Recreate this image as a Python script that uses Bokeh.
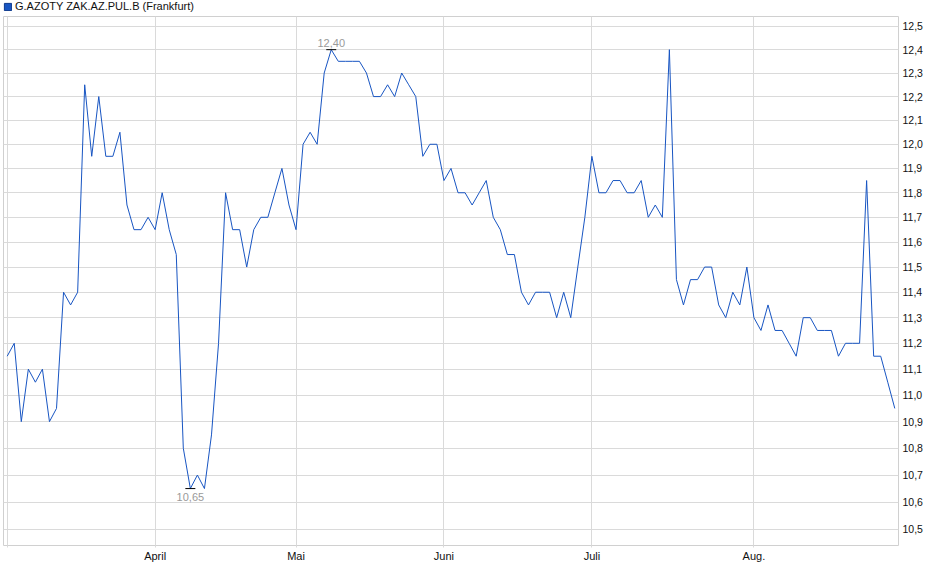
import numpy as np
from bokeh.plotting import figure
from bokeh.layouts import column
from bokeh.models import (Range1d, FixedTicker, CustomJSTickFormatter, Label,
                          Legend, LegendItem)
from bokeh.embed import file_html
from bokeh.resources import INLINE

series_name = "G.AZOTY ZAK.AZ.PUL.B (Frankfurt)"

prices = [
    11.15, 11.2, 10.9, 11.1, 11.05, 11.1, 10.9, 10.95, 11.4, 11.35,
    11.4, 12.25, 11.95, 12.2, 11.95, 11.95, 12.05, 11.75, 11.65, 11.65,
    11.7, 11.65, 11.8, 11.65, 11.55, 10.8, 10.65, 10.7, 10.65, 10.85,
    11.2, 11.8, 11.65, 11.65, 11.5, 11.65, 11.7, 11.7, 11.8, 11.9,
    11.75, 11.65, 12.0, 12.05, 12.0, 12.3, 12.4, 12.35, 12.35, 12.35,
    12.35, 12.3, 12.2, 12.2, 12.25, 12.2, 12.3, 12.25, 12.2, 11.95,
    12.0, 12.0, 11.85, 11.9, 11.8, 11.8, 11.75, 11.8, 11.85, 11.7,
    11.65, 11.55, 11.55, 11.4, 11.35, 11.4, 11.4, 11.4, 11.3, 11.4,
    11.3, 11.5, 11.7, 11.95, 11.8, 11.8, 11.85, 11.85, 11.8, 11.8,
    11.85, 11.7, 11.75, 11.7, 12.4, 11.45, 11.35, 11.45, 11.45, 11.5,
    11.5, 11.35, 11.3, 11.4, 11.35, 11.5, 11.3, 11.25, 11.35, 11.25,
    11.25, 11.2, 11.15, 11.3, 11.3, 11.25, 11.25, 11.25, 11.15, 11.2,
    11.2, 11.2, 11.85, 11.15, 11.15, 11.05, 10.95,
]

month_tick_index = [0, 21, 41, 62, 83, 106]
month_tick_labels = ["", "April", "Mai", "Juni", "Juli", "Aug."]
y_ticks = [10.5, 10.6, 10.7, 10.8, 10.9, 11.0, 11.1, 11.2, 11.3, 11.4, 11.5,
           11.6, 11.7, 11.8, 11.9, 12.0, 12.1, 12.2, 12.3, 12.4, 12.5]

days = list(range(len(prices)))

FONT = "Liberation Sans"
LINE_COLOR = "#1855c2"
GRID = "#dadada"
TOTAL_W = 934
FRAME_W = 895
FRAME_H = 529

# ---------- legend strip on top ----------
top = figure(width=TOTAL_W, height=16, output_backend="svg", toolbar_location=None,
             x_axis_type=None, y_axis_type=None,
             x_range=Range1d(0, 1), y_range=Range1d(0, 1),
             min_border=0, outline_line_color=None)
top.grid.visible = False
top.background_fill_color = "white"
top.border_fill_color = "white"
swatch = top.quad(left=[5], right=[6], top=[5], bottom=[4],
                  fill_color=LINE_COLOR, line_color="#0e3a8c")
legend = Legend(items=[LegendItem(label=series_name, renderers=[swatch])],
                location="top_left", orientation="horizontal",
                border_line_color=None, background_fill_alpha=0,
                padding=1, margin=0, spacing=0,
                glyph_width=9, glyph_height=9, label_standoff=3,
                label_height=11, label_text_font=FONT,
                label_text_font_size="11px", label_text_color="#111111",
                label_text_baseline="middle")
top.add_layout(legend)

# ---------- main chart ----------
p = figure(frame_width=FRAME_W, frame_height=FRAME_H,
           output_backend="svg", toolbar_location=None,
           y_axis_type="log", y_axis_location="right",
           x_range=Range1d(-0.525, len(prices) - 1 + 0.525),
           y_range=Range1d(10.4419, 12.5434),
           min_border_left=3, min_border_right=TOTAL_W - FRAME_W - 3,
           min_border_top=0, min_border_bottom=26)

p.background_fill_color = "white"
p.border_fill_color = "white"
p.outline_line_color = "#d0d0d0"
p.outline_line_width = 1

# x axis
p.xaxis.ticker = FixedTicker(ticks=month_tick_index)
p.xaxis.major_label_overrides = {i: l for i, l in zip(month_tick_index, month_tick_labels)}
p.xaxis.axis_line_color = None
p.xaxis.major_tick_line_color = GRID
p.xaxis.major_tick_out = 2
p.xaxis.major_tick_in = 0
p.xaxis.minor_tick_line_color = None
p.xaxis.major_label_standoff = 2
p.xaxis.major_label_text_font = FONT
p.xaxis.major_label_text_font_size = "11px"
p.xaxis.major_label_text_color = "#111111"

# y axis
p.yaxis.ticker = FixedTicker(ticks=y_ticks)
p.yaxis.formatter = CustomJSTickFormatter(code="return tick.toFixed(1).replace('.', ',');")
p.yaxis.axis_line_color = None
p.yaxis.major_tick_line_color = None
p.yaxis.major_tick_out = 0
p.yaxis.major_tick_in = 0
p.yaxis.minor_tick_line_color = None
p.yaxis.major_label_standoff = 4
p.yaxis.major_label_text_font = FONT
p.yaxis.major_label_text_font_size = "10.5px"
p.yaxis.major_label_text_color = "#111111"

p.xgrid.grid_line_color = GRID
p.ygrid.grid_line_color = GRID

# price line
p.line(days, prices, line_color=LINE_COLOR, line_width=1)

# max / min markers
imax = int(np.argmax(prices))
imin = int(np.argmin(prices))
pmax = prices[imax]
pmin = prices[imin]

p.scatter([imax, imin], [pmax, pmin], marker="dash", size=10,
          line_color="black", line_width=1)

p.add_layout(Label(x=imax, y=pmax, text=f"{pmax:.2f}".replace(".", ","),
                   text_align="center", text_baseline="bottom", y_offset=3,
                   text_color="#9a9a9a", text_font=FONT, text_font_size="11px"))
p.add_layout(Label(x=imin, y=pmin, text=f"{pmin:.2f}".replace(".", ","),
                   text_align="center", text_baseline="top", y_offset=-4,
                   text_color="#9a9a9a", text_font=FONT, text_font_size="11px",
                   background_fill_color="white"))

layout = column(top, p, spacing=0)
open("out.html", "w").write(file_html(layout, INLINE))
